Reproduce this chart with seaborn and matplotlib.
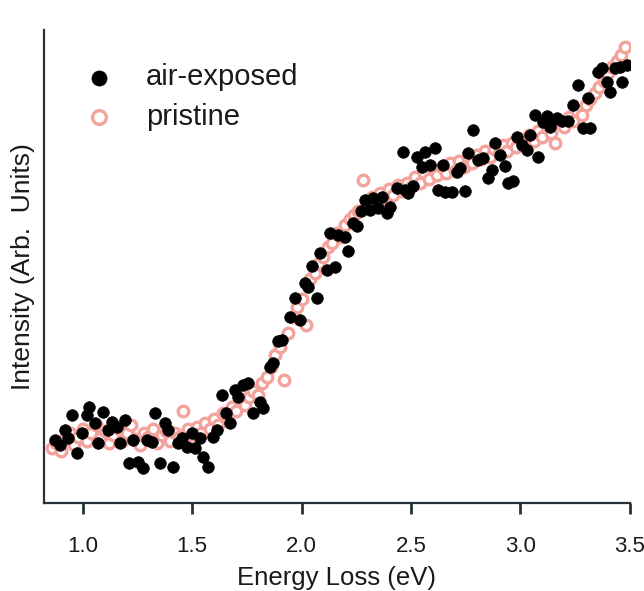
import numpy as np
import pandas as pd
import matplotlib
matplotlib.use("Agg")
import matplotlib.pyplot as plt
import seaborn as sns

# air-exposed sample (filled black markers)
air_energy = [0.872, 0.895, 0.918, 0.931, 0.950, 0.973, 0.995, 1.018, 1.027, 1.055,
              1.069, 1.091, 1.114, 1.133, 1.155, 1.169, 1.192, 1.210, 1.229, 1.251,
              1.274, 1.293, 1.315, 1.329, 1.352, 1.375, 1.388, 1.411, 1.434, 1.452,
              1.475, 1.498, 1.512, 1.535, 1.548, 1.571, 1.594, 1.612, 1.635, 1.654,
              1.672, 1.695, 1.708, 1.731, 1.754, 1.777, 1.809, 1.823, 1.855, 1.868,
              1.891, 1.909, 1.946, 1.969, 1.992, 2.015, 2.028, 2.047, 2.069, 2.083,
              2.115, 2.129, 2.152, 2.165, 2.197, 2.211, 2.234, 2.252, 2.271, 2.289,
              2.312, 2.325, 2.348, 2.367, 2.389, 2.403, 2.435, 2.463, 2.472, 2.485,
              2.508, 2.527, 2.549, 2.563, 2.586, 2.609, 2.622, 2.645, 2.654, 2.686,
              2.709, 2.723, 2.746, 2.760, 2.782, 2.805, 2.828, 2.851, 2.869, 2.883,
              2.906, 2.929, 2.942, 2.965, 2.984, 3.006, 3.029, 3.043, 3.066, 3.080,
              3.102, 3.121, 3.134, 3.148, 3.166, 3.189, 3.217, 3.239, 3.262, 3.285,
              3.308, 3.317, 3.354, 3.372, 3.395, 3.409, 3.431, 3.454, 3.463, 3.486]
air_intensity = [0.63, 0.58, 0.73, 0.65, 0.88, 0.50, 0.70, 0.88, 0.96, 0.80,
                 0.60, 0.91, 0.73, 0.81, 0.76, 0.60, 0.83, 0.40, 0.63, 0.41,
                 0.35, 0.63, 0.61, 0.90, 0.40, 0.80, 0.73, 0.36, 0.60, 0.65,
                 0.56, 0.70, 0.55, 0.65, 0.46, 0.36, 0.66, 0.73, 1.08, 0.90,
                 0.80, 1.13, 1.06, 1.18, 1.20, 0.90, 1.01, 0.95, 1.36, 1.40,
                 1.62, 1.63, 1.86, 2.05, 1.83, 2.20, 2.16, 2.37, 2.05, 2.50,
                 2.33, 2.70, 2.36, 2.68, 2.66, 2.52, 2.80, 2.77, 2.92, 3.03,
                 2.93, 3.05, 2.95, 3.06, 2.90, 2.96, 3.15, 3.51, 3.13, 3.10,
                 3.17, 3.46, 3.36, 3.51, 3.38, 3.55, 3.13, 3.38, 3.11, 3.11,
                 3.31, 3.35, 3.12, 3.50, 3.73, 3.43, 3.45, 3.25, 3.33, 3.60,
                 3.48, 3.37, 3.20, 3.22, 3.66, 3.58, 3.53, 3.68, 3.88, 3.46,
                 3.81, 3.87, 3.76, 3.83, 3.85, 3.82, 3.82, 3.98, 4.18, 3.75,
                 4.05, 3.75, 4.31, 4.35, 4.21, 4.11, 4.35, 4.36, 4.21, 4.38]

# pristine sample (open pink markers)
pristine_energy = [0.86, 0.88, 0.90, 0.92, 0.94, 0.96, 0.98, 1.00, 1.02, 1.04,
                   1.06, 1.08, 1.10, 1.12, 1.14, 1.16, 1.18, 1.20, 1.22, 1.24,
                   1.26, 1.28, 1.30, 1.32, 1.34, 1.36, 1.38, 1.40, 1.42, 1.44,
                   1.46, 1.48, 1.50, 1.52, 1.54, 1.56, 1.58, 1.60, 1.62, 1.64,
                   1.66, 1.68, 1.70, 1.72, 1.74, 1.76, 1.78, 1.80, 1.82, 1.84,
                   1.86, 1.88, 1.90, 1.92, 1.94, 1.96, 1.98, 2.00, 2.02, 2.04,
                   2.06, 2.08, 2.10, 2.12, 2.14, 2.16, 2.18, 2.20, 2.22, 2.24,
                   2.26, 2.28, 2.30, 2.32, 2.34, 2.36, 2.38, 2.40, 2.42, 2.44,
                   2.46, 2.48, 2.50, 2.52, 2.54, 2.56, 2.58, 2.60, 2.62, 2.64,
                   2.66, 2.68, 2.70, 2.72, 2.74, 2.76, 2.78, 2.80, 2.82, 2.84,
                   2.86, 2.88, 2.90, 2.92, 2.94, 2.96, 2.98, 3.00, 3.02, 3.04,
                   3.06, 3.08, 3.10, 3.12, 3.14, 3.16, 3.18, 3.20, 3.22, 3.24,
                   3.26, 3.28, 3.30, 3.32, 3.34, 3.36, 3.38, 3.40, 3.42, 3.44,
                   3.46, 3.48]
pristine_intensity = [0.55, 0.60, 0.52, 0.64, 0.70, 0.58, 0.66, 0.74, 0.62, 0.70,
                      0.78, 0.65, 0.72, 0.60, 0.68, 0.75, 0.62, 0.70, 0.78, 0.64,
                      0.58, 0.70, 0.66, 0.74, 0.60, 0.68, 0.72, 0.62, 0.70, 0.66,
                      0.92, 0.74, 0.68, 0.76, 0.70, 0.80, 0.74, 0.84, 0.78, 0.90,
                      0.86, 0.96, 0.92, 1.02, 0.98, 1.06, 1.12, 1.08, 1.20, 1.26,
                      1.36, 1.48, 1.56, 1.23, 1.70, 1.86, 1.96, 2.04, 1.78, 2.24,
                      2.30, 2.40, 2.46, 2.56, 2.60, 2.70, 2.66, 2.78, 2.84, 2.88,
                      2.92, 3.23, 2.96, 3.06, 3.00, 3.10, 3.04, 3.14, 3.08, 3.18,
                      3.12, 3.20, 3.16, 3.26, 3.20, 3.30, 3.24, 3.34, 3.28, 3.36,
                      3.30, 3.40, 3.32, 3.42, 3.36, 3.46, 3.40, 3.48, 3.44, 3.52,
                      3.46, 3.54, 3.50, 3.58, 3.52, 3.60, 3.56, 3.64, 3.58, 3.68,
                      3.62, 3.72, 3.66, 3.76, 3.70, 3.60, 3.80, 3.76, 3.86, 3.82,
                      3.92, 3.88, 3.98, 4.04, 4.10, 4.16, 4.22, 4.30, 4.36, 4.42,
                      4.48, 4.56]

x_ticks = [1.0, 1.5, 2.0, 2.5, 3.0, 3.5]
x_tick_labels = ["1.0", "1.5", "2.0", "2.5", "3.0", "3.5"]

air = pd.DataFrame({"energy": air_energy, "intensity": air_intensity})
pristine = pd.DataFrame({"energy": pristine_energy, "intensity": pristine_intensity})

sns.set_style("ticks")
plt.rcParams["font.family"] = ["Liberation Sans", "DejaVu Sans"]
plt.rcParams["text.color"] = "#1a1a1a"
plt.rcParams["axes.labelcolor"] = "#1a1a1a"

fig = plt.figure(figsize=(6.44, 5.91), dpi=100)
ax = fig.add_axes([0.068, 0.149, 0.910, 0.800])

pink = "#f4a29c"
sns.scatterplot(data=pristine, x="energy", y="intensity", ax=ax, s=58,
                facecolor="white", edgecolor=pink, linewidth=2.4,
                label="pristine", zorder=2)
sns.scatterplot(data=air, x="energy", y="intensity", ax=ax, s=70,
                color="black", edgecolor="black", linewidth=0.5,
                label="air-exposed", zorder=3)

ax.set_xlim(0.822, 3.5)
ax.set_ylim(0, 4.73)
ax.set_xticks(x_ticks, labels=x_tick_labels)
ax.set_yticks([])
ax.tick_params(axis="x", length=8, width=2.0, color="#263238")
ax.tick_params(axis="x", labelcolor="#1a1a1a", labelsize=16, pad=16)
for side in ["top", "right"]:
    ax.spines[side].set_visible(False)
for side in ["left", "bottom"]:
    ax.spines[side].set_color("#263238")
    ax.spines[side].set_linewidth(1.6)

ax.set_xlabel("Energy Loss (eV)", fontsize=18.5, labelpad=6)
ax.set_ylabel("Intensity (Arb.  Units)", fontsize=19, labelpad=6)

handles, labels = ax.get_legend_handles_labels()
ax.legend(handles[::-1], labels[::-1], loc="upper left", frameon=False,
          fontsize=21, bbox_to_anchor=(0.0, 0.985), handletextpad=0.6,
          labelspacing=0.4, markerscale=1.3)

fig.savefig("out.png", dpi=100)
